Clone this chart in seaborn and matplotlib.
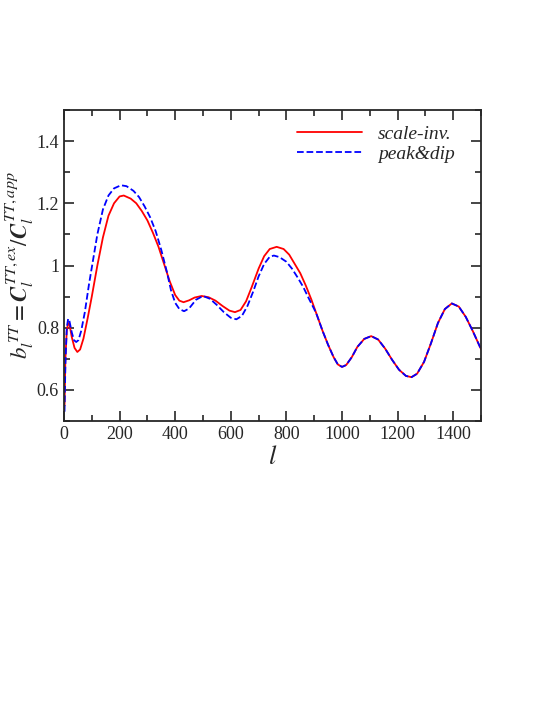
import numpy as np
import matplotlib
matplotlib.use("Agg")
import matplotlib.pyplot as plt
import seaborn as sns
from matplotlib.ticker import MultipleLocator, FuncFormatter

# multipole l and ratio values
l_scale = [2, 5, 10, 15, 20, 28, 38, 48, 58, 70, 85, 100, 120, 140, 160, 180, 200, 215,
           240, 260, 280, 300, 320, 340, 360, 380, 400, 415, 430, 450, 470, 495, 520, 545,
           570, 595, 615, 635, 655, 675, 700, 720, 740, 765, 790, 810, 830, 850, 870, 890,
           910, 930, 950, 970, 985, 1000, 1015, 1035, 1055, 1080, 1105, 1130, 1155, 1180,
           1205, 1230, 1250, 1270, 1295, 1320, 1345, 1370, 1395, 1420, 1445, 1470, 1500]
b_scale = [0.55, 0.70, 0.79, 0.815, 0.81, 0.77, 0.735, 0.722, 0.73, 0.765, 0.83, 0.90, 1.00,
           1.09, 1.16, 1.20, 1.222, 1.225, 1.215, 1.20, 1.175, 1.145, 1.105, 1.06, 1.005,
           0.95, 0.905, 0.887, 0.882, 0.888, 0.897, 0.902, 0.898, 0.887, 0.870, 0.855, 0.850,
           0.857, 0.885, 0.93, 0.99, 1.03, 1.053, 1.060, 1.053, 1.035, 1.005, 0.975, 0.935,
           0.89, 0.84, 0.79, 0.745, 0.705, 0.682, 0.674, 0.680, 0.705, 0.738, 0.764, 0.773,
           0.762, 0.733, 0.697, 0.665, 0.645, 0.641, 0.652, 0.69, 0.75, 0.815, 0.860, 0.878,
           0.868, 0.835, 0.79, 0.731]

l_peak = [2, 5, 10, 15, 20, 28, 36, 44, 52, 62, 75, 90, 105, 120, 140, 160, 180, 205, 225,
          250, 270, 290, 310, 330, 350, 370, 385, 400, 415, 432, 450, 475, 500, 525, 550,
          575, 600, 620, 640, 660, 680, 700, 720, 740, 755, 775, 800, 820, 840, 860, 880,
          900, 910, 930, 950, 970, 985, 1000, 1015, 1035, 1055, 1080, 1105, 1130, 1155,
          1180, 1205, 1230, 1250, 1270, 1295, 1320, 1345, 1370, 1395, 1420, 1445, 1470, 1500]
b_peak = [0.53, 0.68, 0.80, 0.829, 0.82, 0.785, 0.76, 0.754, 0.76, 0.79, 0.85, 0.94, 1.02,
          1.10, 1.18, 1.225, 1.248, 1.258, 1.255, 1.24, 1.22, 1.19, 1.155, 1.11, 1.05, 0.98,
          0.92, 0.88, 0.86, 0.853, 0.862, 0.890, 0.902, 0.893, 0.873, 0.85, 0.832, 0.827,
          0.838, 0.87, 0.915, 0.965, 1.005, 1.028, 1.032, 1.027, 1.012, 0.99, 0.962, 0.932,
          0.895, 0.86, 0.84, 0.79, 0.745, 0.705, 0.682, 0.674, 0.680, 0.705, 0.738, 0.764,
          0.773, 0.762, 0.733, 0.697, 0.665, 0.645, 0.641, 0.652, 0.69, 0.75, 0.815, 0.860,
          0.878, 0.868, 0.835, 0.79, 0.731]

sns.set_style("ticks")
plt.rcParams["font.family"] = ["Liberation Serif", "DejaVu Serif"]
plt.rcParams["mathtext.fontset"] = "stix"

fig = plt.figure(figsize=(5.45, 7.05), dpi=100)
ax = fig.add_axes([0.1174, 0.4028, 0.7652, 0.4412])

sns.lineplot(x=l_scale, y=b_scale, ax=ax, color="red", lw=1.3, label="scale-inv.")
sns.lineplot(x=l_peak, y=b_peak, ax=ax, color="blue", lw=1.3, linestyle="--",
             dashes=(4, 2.5), label="peak&dip")

ax.set_xlim(0, 1500)
ax.set_ylim(0.5, 1.5)
ax.xaxis.set_major_locator(MultipleLocator(200))
ax.xaxis.set_minor_locator(MultipleLocator(100))
ax.yaxis.set_major_locator(MultipleLocator(0.2))
ax.yaxis.set_minor_locator(MultipleLocator(0.1))
ax.yaxis.set_major_formatter(FuncFormatter(lambda v, p: "%g" % round(v, 2)))
ax.set_yticks([0.6, 0.8, 1.0, 1.2, 1.4])
ax.tick_params(which="both", direction="in", top=True, right=True, labelsize=13, width=1.2)
ax.tick_params(which="major", length=7)
ax.tick_params(which="minor", length=4)
for s in ax.spines.values():
    s.set_linewidth(1.3)

ax.set_xlabel("$l$", fontsize=19, labelpad=2)
ax.set_ylabel(r"$b_l^{\,TT} = \mathbfit{C}_l^{\,TT,ex}/\mathbfit{C}_l^{\,TT,app}$",
              fontsize=16.5)
ax.yaxis.set_label_coords(-0.066, 0.5)

leg = ax.legend(loc="upper right", bbox_to_anchor=(0.955, 0.977), borderaxespad=0,
                frameon=False, fontsize=14, handlelength=3.35,
                handletextpad=0.8, labelspacing=0.15)
for t in leg.get_texts():
    t.set_fontstyle("italic")

fig.savefig("out.png", dpi=100)
